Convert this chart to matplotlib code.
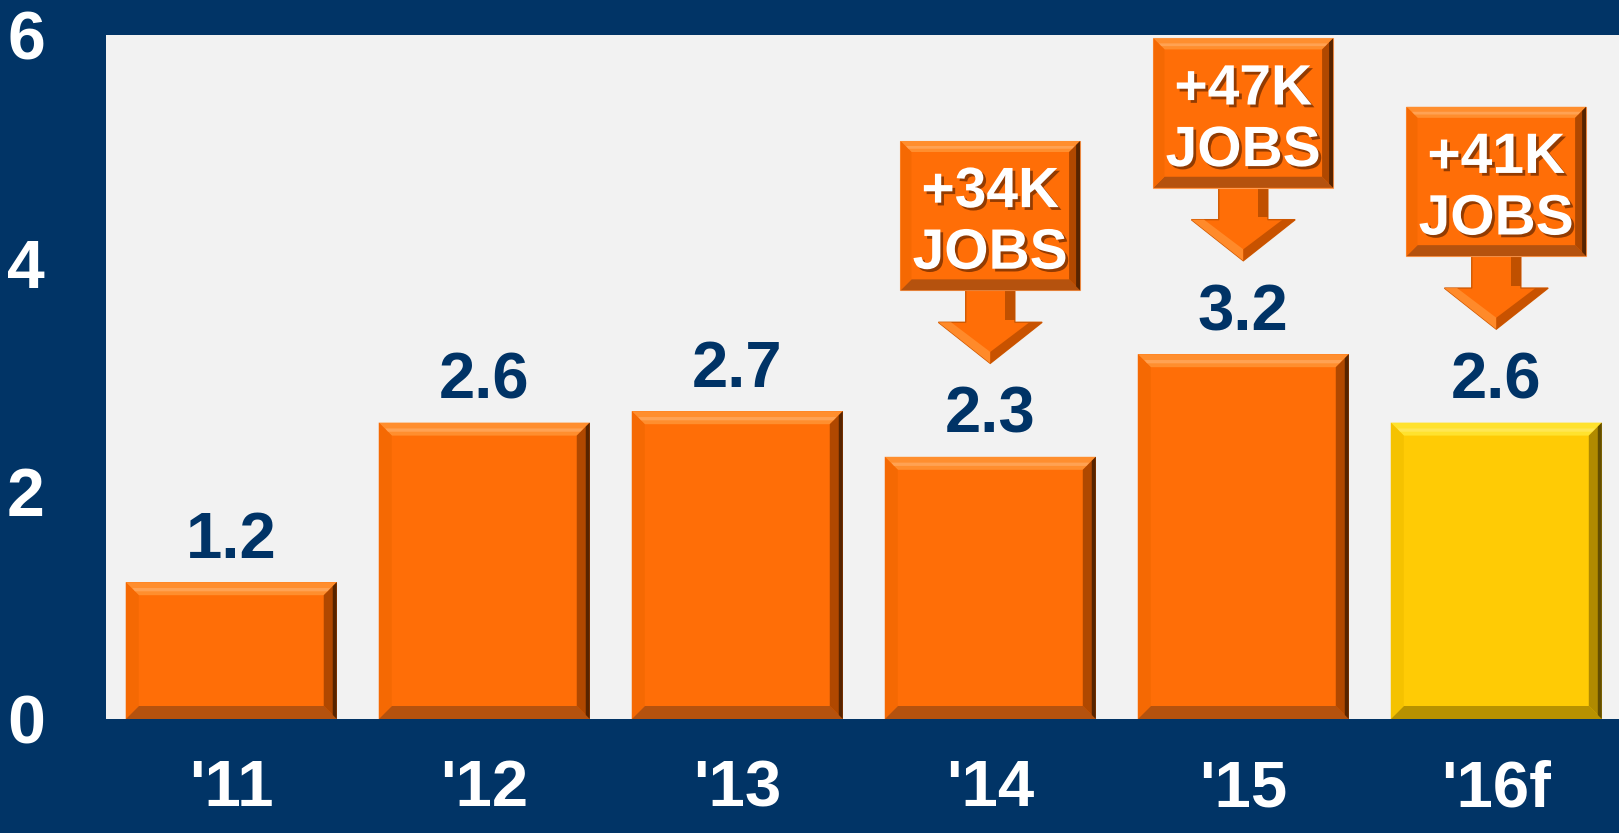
import matplotlib
matplotlib.use('Agg')
import matplotlib.pyplot as plt
from matplotlib.patches import Polygon
import matplotlib.patheffects as pe

categories = ["'11", "'12", "'13", "'14", "'15", "'16f"]
values = [1.2, 2.6, 2.7, 2.3, 3.2, 2.6]
value_labels = ["1.2", "2.6", "2.7", "2.3", "3.2", "2.6"]
is_forecast = [False, False, False, False, False, True]
callout_idx = [3, 4, 5]
callout_top = ["+34K", "+47K", "+41K"]
callout_bottom = ["JOBS", "JOBS", "JOBS"]
yticks = [0, 2, 4, 6]

NAVY = '#013466'
FAM = ['Liberation Sans', 'DejaVu Sans']

ORANGE = dict(face='#FF6E07', top='#FF8E2E', right='#B04800', bottom='#B5520E', left='#F56903', edge='#3A1800')
YELLOW = dict(face='#FFCB05', top='#FFE22E', right='#B08A00', bottom='#B89200', left='#F5C200', edge='#4A3A00')

W, H = 1619, 833
fig = plt.figure(figsize=(W / 100, H / 100), dpi=100, facecolor=NAVY)
axl, axb, axr, axt = 106, 114, 1619, 798
ax = fig.add_axes([axl / W, axb / H, (axr - axl) / W, (axt - axb) / H])
ax.set_facecolor('#F2F2F2')
xlim = (-0.495, 5.485)
ax.set_xlim(*xlim)
ax.set_ylim(0, 6)
for s in ax.spines.values():
    s.set_visible(False)

px_x = (axr - axl) / (xlim[1] - xlim[0])
px_y = (axt - axb) / 6.0


def bevel(x0, x1, y0, y1, pal, bpx=13, z=2):
    bx, by = bpx / px_x, bpx / px_y
    ax.add_patch(Polygon([(x0, y1), (x1, y1), (x1 - bx, y1 - by), (x0 + bx, y1 - by)],
                         closed=True, fc=pal['top'], ec='none', zorder=z + 0.1))
    # light streak inside top bevel
    ax.add_patch(Polygon([(x0 + bx * 0.5, y1 - by * 0.45), (x1 - bx * 0.5, y1 - by * 0.45),
                          (x1 - bx * 0.7, y1 - by * 0.7), (x0 + bx * 0.7, y1 - by * 0.7)],
                         closed=True, fc='white', alpha=0.18, ec='none', zorder=z + 0.15))
    ax.add_patch(Polygon([(x0, y0), (x1, y0), (x1 - bx, y0 + by), (x0 + bx, y0 + by)],
                         closed=True, fc=pal['bottom'], ec='none', zorder=z + 0.1))
    ax.add_patch(Polygon([(x0, y0), (x0, y1), (x0 + bx, y1 - by), (x0 + bx, y0 + by)],
                         closed=True, fc=pal['left'], ec='none', zorder=z + 0.1))
    ax.add_patch(Polygon([(x1, y1), (x1, y0), (x1 - bx, y0 + by), (x1 - bx, y1 - by)],
                         closed=True, fc=pal['right'], ec='none', zorder=z + 0.1))
    ex = 4 / px_x
    ax.add_patch(Polygon([(x1, y1), (x1, y0), (x1 - ex, y0 + ex * px_x / px_y), (x1 - ex, y1 - ex * px_x / px_y)],
                         closed=True, fc=pal['edge'], ec='none', alpha=0.75, zorder=z + 0.2))


colors = [YELLOW['face'] if f else ORANGE['face'] for f in is_forecast]
bars = ax.bar(range(len(values)), values, width=0.834, color=colors, zorder=2)
for p, f in zip(bars.patches, is_forecast):
    x0 = p.get_x(); x1 = x0 + p.get_width(); y1 = p.get_height()
    bevel(x0, x1, 0, y1, YELLOW if f else ORANGE)

for i, (v, lab) in enumerate(zip(values, value_labels)):
    ax.text(i, v + 0.21, lab, ha='center', va='baseline', color='#003366',
            fontsize=47, fontweight='bold', family=FAM, zorder=5)

shadow = [pe.SimplePatchShadow(offset=(2, -2), shadow_rgbFace='#4a1a00', alpha=0.6), pe.Normal()]
for i, t1, t2 in zip(callout_idx, callout_top, callout_bottom):
    v = values[i]
    c = i
    hw, sw, aw = 0.355, 0.097, 0.205
    yb, yt, yh, ytip = v + 1.46, v + 2.77, v + 1.18, v + 0.82
    # arrow
    ax.add_patch(Polygon([(c - sw, yb + 0.05), (c - sw, yh), (c - aw, yh), (c, ytip),
                          (c + aw, yh), (c + sw, yh), (c + sw, yb + 0.05)],
                         closed=True, fc=ORANGE['face'], ec='#D05800', lw=1, zorder=3))
    ax.add_patch(Polygon([(c + sw * 0.6, yb), (c + sw * 0.6, yh + 0.02), (c + sw, yh + 0.02), (c + sw, yb)],
                         closed=True, fc='#C05000', ec='none', zorder=3.1))
    ax.add_patch(Polygon([(c - aw, yh), (c, ytip), (c, ytip + 0.1), (c - aw + 0.05, yh)],
                         closed=True, fc='#FF8A2A', ec='none', zorder=3.1))
    ax.add_patch(Polygon([(c + aw, yh), (c, ytip), (c, ytip + 0.1), (c + aw - 0.05, yh)],
                         closed=True, fc='#C85200', ec='none', zorder=3.1))
    ax.add_patch(Polygon([(c - hw, yb), (c + hw, yb), (c + hw, yt), (c - hw, yt)],
                         closed=True, fc=ORANGE['face'], ec='#FF9A50', lw=0.8, zorder=3.5))
    bevel(c - hw, c + hw, yb, yt, ORANGE, bpx=11, z=3.5)
    ax.text(c, v + 2.19, t1, ha='center', va='baseline', color='white', fontsize=41,
            fontweight='bold', family=FAM, zorder=6, path_effects=shadow)
    ax.text(c, v + 1.65, t2, ha='center', va='baseline', color='white', fontsize=41,
            fontweight='bold', family=FAM, zorder=6, path_effects=shadow)

ax.set_yticks(yticks)
ax.set_yticklabels([str(t) for t in yticks])
ax.set_xticks(range(len(categories)))
ax.set_xticklabels(categories)
ax.tick_params(axis='both', length=0, colors='white')
ax.tick_params(axis='y', pad=44, labelsize=49)
ax.tick_params(axis='x', pad=29, labelsize=47)
for lab in ax.get_xticklabels() + ax.get_yticklabels():
    lab.set_fontweight('bold')
    lab.set_family(FAM)

fig.savefig('out.png', dpi=100, facecolor=NAVY)
